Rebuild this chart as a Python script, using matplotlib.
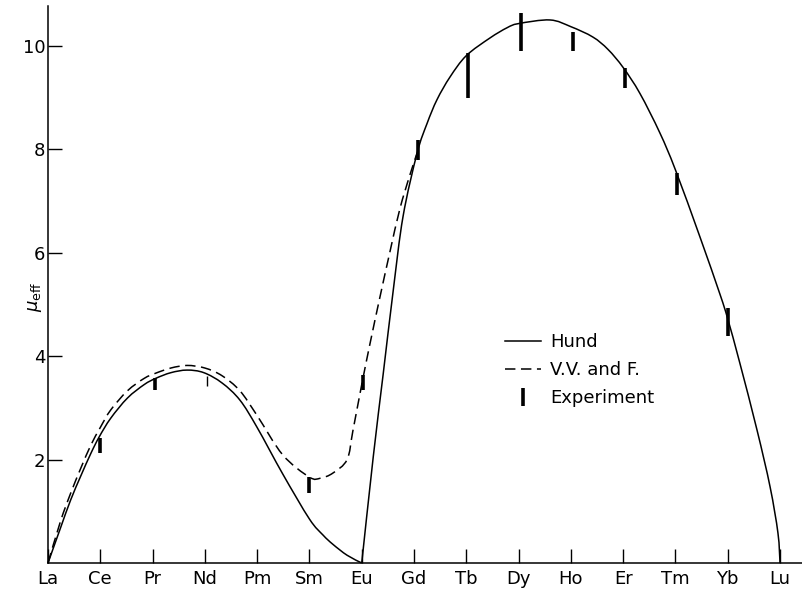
import matplotlib
matplotlib.use("Agg")
import matplotlib.pyplot as plt
from matplotlib.lines import Line2D
from matplotlib.path import Path
from matplotlib.patches import PathPatch

plt.rcParams['font.family'] = ['DejaVu Sans']
plt.rcParams['lines.scale_dashes'] = False

elements = ["La", "Ce", "Pr", "Nd", "Pm", "Sm", "Eu", "Gd",
            "Tb", "Dy", "Ho", "Er", "Tm", "Yb", "Lu"]

# Hund curve (position in units of element index)
# two branches: La..Eu and Eu..Lu
hund_left_x = [0.00, 0.24, 0.43, 0.63, 0.82, 0.98, 1.20, 1.52, 1.84, 2.06, 2.35,
               2.66, 2.98, 3.33, 3.67, 4.00, 4.49, 5.00, 5.26, 5.45, 5.72, 6.00]
hund_left_y = [0.00, 0.68, 1.21, 1.69, 2.12, 2.44, 2.80, 3.19, 3.45, 3.57, 3.68,
               3.73, 3.68, 3.48, 3.15, 2.62, 1.72, 0.85, 0.54, 0.36, 0.15, 0.00]
hund_right_x = [6.00, 6.22, 6.41, 6.60, 6.79, 7.06, 7.25, 7.44, 7.69, 8.00, 8.45, 8.78,
                9.00, 9.60, 10.00, 10.42, 10.71, 11.00, 11.32, 11.70, 12.00, 12.47,
                12.85, 13.00, 13.23, 13.56, 13.81, 13.96, 14.00]
hund_right_y = [0.00, 2.05, 3.65, 5.25, 6.70, 7.93, 8.50, 8.96, 9.40, 9.81, 10.15, 10.35,
                10.43, 10.50, 10.37, 10.17, 9.93, 9.58, 9.08, 8.32, 7.60, 6.30,
                5.20, 4.72, 3.87, 2.57, 1.47, 0.58, 0.00]

# Van Vleck and Frank curve
vvf_x = [0.00, 0.24, 0.43, 0.63, 0.82, 1.00, 1.20, 1.52, 1.84, 2.06, 2.35, 2.66,
         3.00, 3.33, 3.67, 4.00, 4.49, 5.00, 5.21, 5.45, 5.72, 5.83, 6.00, 6.16,
         6.35, 6.54, 6.73, 6.92, 7.06]
vvf_y = [0.00, 0.81, 1.34, 1.84, 2.28, 2.62, 2.96, 3.33, 3.57, 3.67, 3.77, 3.82,
         3.77, 3.62, 3.33, 2.85, 2.09, 1.66, 1.64, 1.74, 2.00, 2.55, 3.45, 4.25,
         5.15, 6.02, 6.85, 7.50, 7.93]

# experimental ranges
exp_elements = ["Ce", "Pr", "Nd", "Sm", "Eu", "Gd", "Tb", "Dy", "Ho", "Er", "Tm", "Yb"]
exp_x = [1.00, 2.05, 3.04, 5.00, 6.02, 7.08, 8.03, 9.05, 10.04, 11.03, 12.03, 13.00]
exp_lo = [2.13, 3.35, 3.42, 1.35, 3.35, 7.80, 9.00, 9.90, 9.90, 9.19, 7.12, 4.39]
exp_hi = [2.42, 3.57, 3.62, 1.66, 3.64, 8.18, 9.86, 10.64, 10.27, 9.57, 7.54, 4.93]

y_ticks = [2, 4, 6, 8, 10]


def smooth_path(xs, ys):
    # Bezier path through the read points (Catmull-Rom tangents)
    pts = list(zip(xs, ys))
    verts = [pts[0]]
    codes = [Path.MOVETO]
    n = len(pts)
    for i in range(n - 1):
        p0 = pts[max(i - 1, 0)]
        p1 = pts[i]
        p2 = pts[i + 1]
        p3 = pts[min(i + 2, n - 1)]
        c1 = (p1[0] + (p2[0] - p0[0]) / 6, p1[1] + (p2[1] - p0[1]) / 6)
        c2 = (p2[0] - (p3[0] - p1[0]) / 6, p2[1] - (p3[1] - p1[1]) / 6)
        verts += [c1, c2, p2]
        codes += [Path.CURVE4] * 3
    return Path(verts, codes)


W, H = 802, 590
fig = plt.figure(figsize=(W / 100, H / 100), dpi=100)
ax = fig.add_axes([48 / W, 27 / H, 754 / W, 557 / H])

for xs, ys in [(hund_left_x, hund_left_y), (hund_right_x, hund_right_y)]:
    ax.add_patch(PathPatch(smooth_path(xs, ys), fill=False, edgecolor='black',
                           lw=1.1, clip_on=False))
ax.add_patch(PathPatch(smooth_path(vvf_x, vvf_y), fill=False, edgecolor='black',
                       lw=1.1, linestyle=(0, (7.5, 4)), clip_on=False))
bar_lw = [1.0 if el == "Nd" else 2.6 for el in exp_elements]
ax.vlines(exp_x, exp_lo, exp_hi, colors='black', linewidths=bar_lw)

ax.set_xlim(0, 14.42)
ax.set_ylim(0, 10.77)
ax.set_xticks(range(len(elements)))
ax.set_xticklabels(elements)
ax.set_yticks(y_ticks)
ax.tick_params(direction='in', length=10, width=1.0, labelsize=13, color='black')
ax.tick_params(axis='x', pad=5)
ax.tick_params(axis='y', pad=2)
for side in ('top', 'right'):
    ax.spines[side].set_visible(False)
for side in ('left', 'bottom'):
    ax.spines[side].set_linewidth(1.1)

fig.text(35 / W, 1 - 297 / H, r'$\mu_{\rm eff}$', rotation=90,
         ha='center', va='center', fontsize=13)

handles = [
    Line2D([], [], color='black', lw=1.1),
    Line2D([], [], color='black', lw=1.1, dashes=(7.5, 4)),
    Line2D([], [], color='black', ls='none', marker='|', markersize=13, markeredgewidth=2.6),
]
ax.legend(handles, ["Hund", "V.V. and F.", "Experiment"], loc='upper left',
          bbox_to_anchor=(505 / W, 1 - 333 / H), bbox_transform=fig.transFigure,
          frameon=False, fontsize=13, handlelength=2.0, handletextpad=0.5,
          labelspacing=0.55, borderpad=0, borderaxespad=0)

fig.savefig("out.png", dpi=100)
